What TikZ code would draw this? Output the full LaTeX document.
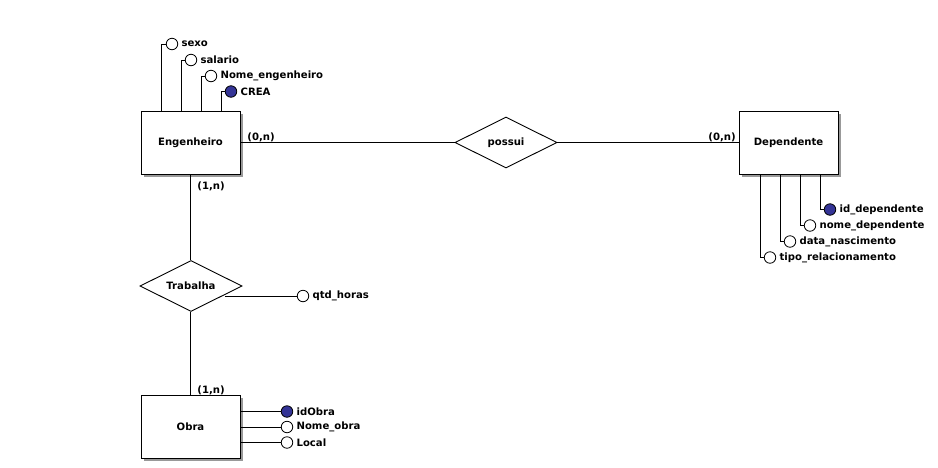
\documentclass[tikz,border=0pt]{standalone}
\usepackage{fontspec}
\setmainfont{DejaVu Sans}
\usetikzlibrary{shapes.geometric,shadows}
\definecolor{keyblue}{RGB}{52,52,150}
\begin{document}
\begin{tikzpicture}[x=1pt,y=-1pt,
  every node/.style={font=\fontsize{10.1}{12}\selectfont\bfseries},
  line width=0.9pt,
  entity/.style={draw, fill=white, rectangle, minimum width=99pt, minimum height=63pt, inner sep=0pt,
    drop shadow={shadow xshift=2.6pt, shadow yshift=-2.6pt, fill=black!40, opacity=1}},
  relation/.style={draw, fill=white, diamond, aspect=2, minimum width=102pt, minimum height=51pt, inner sep=0pt},
  attr/.style={draw, circle, fill=white, minimum size=11.5pt, inner sep=0pt, line width=0.8pt},
  keyattr/.style={attr, fill=keyblue},
  attrtext/.style={anchor=west, inner sep=0pt},
  card/.style={anchor=west, inner sep=0pt}]
\useasboundingbox (0,0) rectangle (938,467);

% entities and relationships
\node[entity] (eng) at (190.5,142.5) {Engenheiro};
\node[entity] (dep) at (788.5,142.5) {Dependente};
\node[entity] (obra) at (190.5,427) {Obra};
\node[relation] (possui) at (506,142.5) {possui};
\node[relation] (trab) at (191,286) {Trabalha};

% relationship connectors
\draw (eng.east) -- (possui.west);
\draw (possui.east) -- (dep.west);
\draw (eng.south) -- (trab.north -| eng.south);
\draw (trab.south -| obra.north) -- (obra.north);

% cardinalities
\node[card] (c1) at (247,137) {(0,n)};
\node[card] (c2) at (708,137) {(0,n)};
\node[card] (c3) at (197,186) {(1,n)};
\node[card] (c4) at (197,390) {(1,n)};

% Engenheiro attributes
\node[attr] (sexo) at (172,44) {};
\node[attr] (salario) at (191,60) {};
\node[attr] (nomeeng) at (211,76) {};
\node[keyattr] (crea) at (231,91.5) {};
\draw ([xshift=-29.5pt]eng.north) |- (sexo.west);
\draw ([xshift=-9.5pt]eng.north) |- (salario.west);
\draw ([xshift=10.5pt]eng.north) |- (nomeeng.west);
\draw ([xshift=30.5pt]eng.north) |- (crea.west);
\node[attrtext] (tsexo) at ([xshift=3pt]sexo.east) {sexo};
\node[attrtext] (tsalario) at ([xshift=3pt]salario.east) {salario};
\node[attrtext] (tnomeeng) at ([xshift=3pt]nomeeng.east) {Nome\_engenheiro};
\node[attrtext] (tcrea) at ([xshift=3pt]crea.east) {CREA};

% Dependente attributes
\node[keyattr] (iddep) at (830,209.5) {};
\node[attr] (nomedep) at (810,225.5) {};
\node[attr] (datanasc) at (790,241.5) {};
\node[attr] (tiporel) at (770,257.5) {};
\draw ([xshift=31.5pt]dep.south) |- (iddep.west);
\draw ([xshift=11.5pt]dep.south) |- (nomedep.west);
\draw ([xshift=-8.5pt]dep.south) |- (datanasc.west);
\draw ([xshift=-28.5pt]dep.south) |- (tiporel.west);
\node[attrtext] (tiddep) at ([xshift=3pt]iddep.east) {id\_dependente};
\node[attrtext] (tnomedep) at ([xshift=3pt]nomedep.east) {nome\_dependente};
\node[attrtext] (tdatanasc) at ([xshift=3pt]datanasc.east) {data\_nascimento};
\node[attrtext] (ttiporel) at ([xshift=3pt]tiporel.east) {tipo\_relacionamento};

% Trabalha attribute
\node[attr] (qtd) at (303,296) {};
\draw (qtd.west) -- (trab.-15.6 |- qtd.west);
\node[attrtext] (tqtd) at ([xshift=3pt]qtd.east) {qtd\_horas};

% Obra attributes
\node[keyattr] (idobra) at (287,411.5) {};
\node[attr] (nomeobra) at (287,427) {};
\node[attr] (local) at (287,442.5) {};
\draw (obra.east |- idobra.west) -- (idobra.west);
\draw (obra.east |- nomeobra.west) -- (nomeobra.west);
\draw (obra.east |- local.west) -- (local.west);
\node[attrtext] (tidobra) at ([xshift=3pt]idobra.east) {idObra};
\node[attrtext] (tnomeobra) at ([xshift=3pt]nomeobra.east) {Nome\_obra};
\node[attrtext] (tlocal) at ([xshift=3pt]local.east) {Local};
\end{tikzpicture}
\end{document}
